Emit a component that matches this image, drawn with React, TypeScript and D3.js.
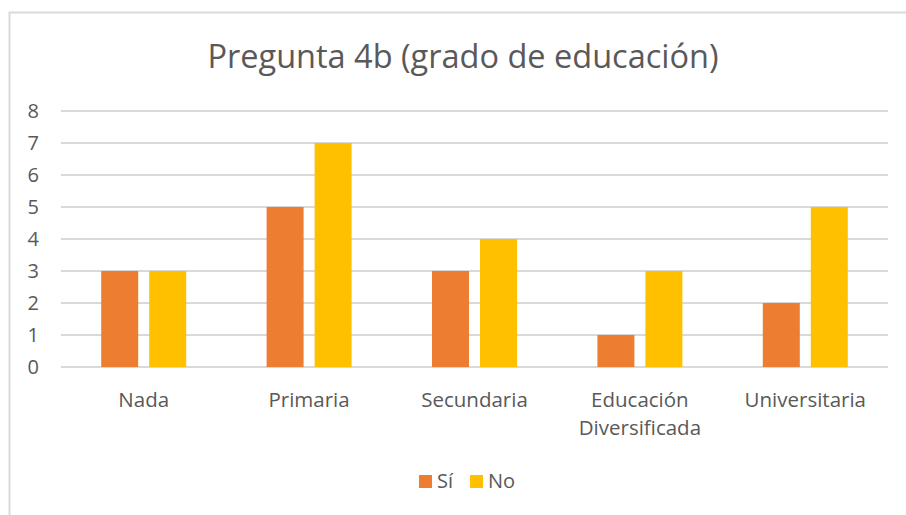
import React from "react";
import * as d3 from "d3";

const categories = ["Nada", "Primaria", "Secundaria", "Educación\nDiversificada", "Universitaria"];
const seriesNames = ["Sí", "No"];
const siValues = [3, 5, 3, 1, 2];
const noValues = [3, 7, 4, 3, 5];
const yTicks = [0, 1, 2, 3, 4, 5, 6, 7, 8];
const colors = ["#ED7D31", "#FFC000"];

const W = 906;
const H = 515;
const FONT = "'Open Sans', 'Noto Sans', sans-serif";

export default function App() {
  const ref = React.useRef<SVGSVGElement | null>(null);

  React.useEffect(() => {
    if (!ref.current) return;
    const svg = d3.select(ref.current);
    svg.selectAll("*").remove();

    const margin = { top: 111, right: 18, bottom: 148, left: 61 };

    svg
      .append("rect")
      .attr("x", 9.5)
      .attr("y", 12.5)
      .attr("width", W + 20)
      .attr("height", H + 20)
      .attr("fill", "#fff")
      .attr("stroke", "#d9d9d9")
      .attr("stroke-width", 2);

    const x = d3
      .scaleBand<string>()
      .domain(categories)
      .range([margin.left, W - margin.right]);
    const y = d3
      .scaleLinear()
      .domain([0, 8])
      .range([H - margin.bottom, margin.top]);

    svg
      .append("text")
      .attr("x", 463)
      .attr("y", 68)
      .attr("text-anchor", "middle")
      .attr("font-family", FONT)
      .attr("font-size", 32.5)
      .attr("fill", "#595959")
      .text("Pregunta 4b (grado de educación)");

    const grid = svg.append("g");
    yTicks.forEach(t => {
      grid
        .append("line")
        .attr("x1", margin.left)
        .attr("x2", W - margin.right)
        .attr("y1", y(t))
        .attr("y2", y(t))
        .attr("stroke", "#d9d9d9")
        .attr("stroke-width", 2);
      grid
        .append("text")
        .attr("x", 39)
        .attr("y", y(t))
        .attr("dy", "0.36em")
        .attr("text-anchor", "end")
        .attr("font-family", FONT)
        .attr("font-size", 20)
        .attr("fill", "#595959")
        .text(t);
    });

    const barW = 37;
    const gap = 11;
    const series = [siValues, noValues];
    series.forEach((vals, si) => {
      svg
        .append("g")
        .selectAll("rect")
        .data(vals)
        .join("rect")
        .attr("x", (_, i) => {
          const c = x(categories[i])! + x.bandwidth() / 2;
          return si === 0 ? c - gap / 2 - barW : c + gap / 2;
        })
        .attr("y", d => y(d))
        .attr("width", barW)
        .attr("height", d => y(0) - y(d))
        .attr("fill", colors[si]);
    });

    categories.forEach(c => {
      const lines = c.split("\n");
      const t = svg
        .append("text")
        .attr("text-anchor", "middle")
        .attr("font-family", FONT)
        .attr("font-size", 20.5)
        .attr("fill", "#595959");
      lines.forEach((l, i) => {
        t.append("tspan")
          .attr("x", x(c)! + x.bandwidth() / 2)
          .attr("y", 407 + i * 28)
          .text(l);
      });
    });

    const legend = svg.append("g");
    const legendX = [419, 470];
    seriesNames.forEach((n, i) => {
      legend
        .append("rect")
        .attr("x", legendX[i])
        .attr("y", 475)
        .attr("width", 13)
        .attr("height", 13)
        .attr("fill", colors[i]);
      legend
        .append("text")
        .attr("x", legendX[i] + 18)
        .attr("y", 481)
        .attr("dy", "0.36em")
        .attr("font-family", FONT)
        .attr("font-size", 20)
        .attr("fill", "#595959")
        .text(n);
    });
  }, []);

  return (
    <svg
      ref={ref}
      width={W}
      height={H}
      style={{ position: "absolute", left: 0, top: 0, background: "#fff" }}
    ></svg>
  );
}
